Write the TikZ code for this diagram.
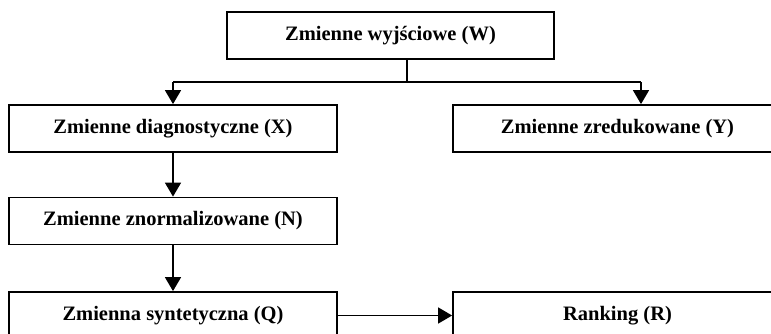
\documentclass[tikz,border=0pt]{standalone}
\usepackage{fontspec}
\setmainfont{Liberation Serif}
\usetikzlibrary{arrows.meta}
\begin{document}
\begin{tikzpicture}[x=1pt,y=-1pt,
  box/.style={draw=black,line width=1.8pt,inner sep=0pt,minimum height=47pt,
    font=\fontsize{20.5}{24}\selectfont\bfseries,text=black},
  conn/.style={line width=1.6pt},
  arr/.style={conn,-{Triangle[width=16pt,length=14pt]}}]
\useasboundingbox (0,0) rectangle (771,333);
\node[box,minimum width=327pt] (W) at (390.5,35.5) {Zmienne wyjściowe (W)};
\node[box,minimum width=328pt] (X) at (173,128.5) {Zmienne diagnostyczne (X)};
\node[box,minimum width=329pt] (Y) at (617.5,128.5) {Zmienne zredukowane (Y)};
\node[box,minimum width=328pt] (N) at (173,221) {Zmienne znormalizowane (N)};
\node[box,minimum width=328pt] (Q) at (173,315.5) {Zmienna syntetyczna (Q)};
\node[box,minimum width=329pt] (R) at (617.5,315.5) {Ranking (R)};
\coordinate (split) at (407,82);
\coordinate (yin) at ([xshift=23.5pt]Y.north);
\draw[conn] (W.south -| split) -- (split);
\draw[conn] (X.north |- split) -- (yin |- split);
\draw[arr] (X.north |- split) -- (X.north);
\draw[arr] (yin |- split) -- (yin);
\draw[arr] (X) -- (N);
\draw[arr] (N) -- (Q);
\draw[arr] (Q) -- (R);
\end{tikzpicture}
\end{document}
